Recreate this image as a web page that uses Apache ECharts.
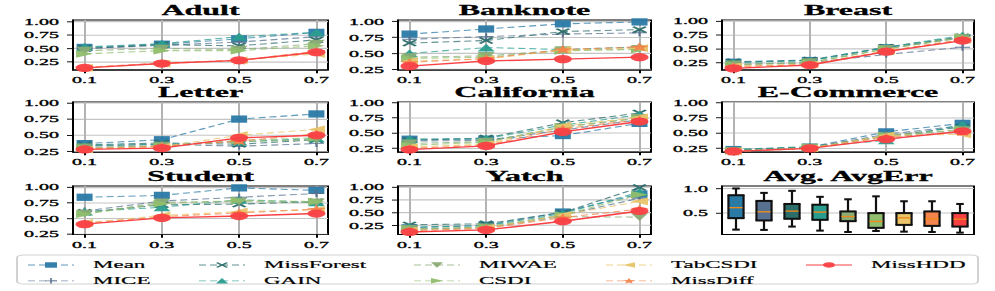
<!DOCTYPE html>
<html><head><meta charset="utf-8">
<script src="https://cdn.jsdelivr.net/npm/echarts@6/dist/echarts.min.js"></script>
<style>
html,body{margin:0;padding:0;background:#fff;overflow:hidden;width:995px;height:291px}
#wrap{width:995px;height:291px;overflow:hidden;position:relative}
#c{width:995px;height:640px;transform:scaleY(0.4546875);transform-origin:0 0;position:absolute;left:0;top:0}
</style>
</head><body><div id="wrap"><div id="c"></div></div>
<script>
// ---------------- data ----------------
const missingRates = [0.1, 0.3, 0.5, 0.7];
const methods = ['Mean','MICE','MissForest','GAIN','MIWAE','CSDI','TabCSDI','MissDiff','MissHDD'];
const datasets = ['Adult','Banknote','Breast','Letter','California','E-Commerce','Student','Yatch'];
const yTickValues = [0.25, 0.5, 0.75, 1.0];
const boxTickValues = [0.5, 1.0];

// each row: one method (order as methods)
const adult = [
  [0.52,0.58,0.68,0.80],[0.50,0.56,0.62,0.72],[0.50,0.57,0.55,0.66],[0.53,0.59,0.72,0.80],
  [0.46,0.50,0.48,0.59],[0.40,0.46,0.46,0.55],[0.14,0.22,0.28,0.40],[0.15,0.23,0.28,0.45],[0.14,0.22,0.28,0.43]];
const banknote = [
  [0.80,0.88,0.96,0.99],[0.72,0.76,0.80,0.82],[0.66,0.70,0.84,0.87],[0.50,0.59,0.56,0.60],
  [0.44,0.46,0.55,0.57],[0.42,0.44,0.54,0.56],[0.38,0.41,0.55,0.58],[0.36,0.42,0.56,0.60],[0.30,0.38,0.41,0.44]];
const breast = [
  [0.26,0.29,0.52,0.70],[0.22,0.25,0.40,0.53],[0.27,0.30,0.53,0.72],[0.25,0.29,0.53,0.74],
  [0.22,0.26,0.50,0.70],[0.21,0.25,0.50,0.71],[0.19,0.22,0.46,0.66],[0.18,0.22,0.46,0.67],[0.15,0.21,0.45,0.65]];
const letter = [
  [0.37,0.43,0.75,0.83],[0.33,0.36,0.33,0.37],[0.35,0.38,0.36,0.43],[0.34,0.36,0.40,0.45],
  [0.31,0.34,0.40,0.43],[0.30,0.33,0.42,0.46],[0.28,0.32,0.50,0.59],[0.29,0.33,0.41,0.52],[0.28,0.30,0.46,0.50]];
const california = [
  [0.40,0.40,0.46,0.66],[0.37,0.38,0.55,0.72],[0.38,0.42,0.67,0.83],[0.40,0.41,0.63,0.80],
  [0.33,0.36,0.60,0.75],[0.30,0.35,0.60,0.74],[0.27,0.32,0.62,0.76],[0.25,0.30,0.57,0.72],[0.23,0.29,0.52,0.69]];
const ecommerce = [
  [0.23,0.27,0.52,0.66],[0.22,0.26,0.48,0.62],[0.22,0.27,0.45,0.60],[0.23,0.28,0.38,0.64],
  [0.21,0.26,0.45,0.55],[0.21,0.26,0.46,0.56],[0.20,0.25,0.46,0.48],[0.20,0.25,0.43,0.52],[0.20,0.25,0.40,0.53]];
const student = [
  [0.84,0.87,0.99,0.95],[0.62,0.78,0.84,0.90],[0.60,0.72,0.73,0.77],[0.61,0.68,0.80,0.76],
  [0.58,0.76,0.77,0.76],[0.57,0.74,0.79,0.77],[0.43,0.55,0.61,0.64],[0.42,0.53,0.59,0.65],[0.41,0.51,0.54,0.58]];
const yatch = [
  [0.20,0.25,0.51,0.86],[0.17,0.20,0.45,0.78],[0.26,0.28,0.50,0.99],[0.22,0.24,0.48,0.90],
  [0.18,0.21,0.42,0.41],[0.18,0.22,0.45,0.85],[0.15,0.20,0.45,0.72],[0.14,0.19,0.40,0.57],[0.12,0.16,0.33,0.53]];
const allData = [adult, banknote, breast, letter, california, ecommerce, student, yatch];

// box plot statistics of average error per method
const boxLow  = [0.164,0.158,0.226,0.144,0.116,0.137,0.123,0.116,0.103];
const boxQ1   = [0.397,0.350,0.384,0.363,0.336,0.200,0.260,0.240,0.226];
const boxMed  = [0.610,0.527,0.540,0.520,0.430,0.330,0.404,0.384,0.377];
const boxQ3   = [0.863,0.747,0.685,0.670,0.534,0.500,0.500,0.534,0.500];
const boxHigh = [1.000,0.910,0.952,0.830,0.780,0.840,0.740,0.740,0.685];

// axis limits per panel
const yMin = [0.10,0.24,0.12,0.24,0.19,0.19,0.245,0.07];
const yMax = [1.03,1.02,1.02,1.015,1.01,1.01,1.02,1.02];

// ---------------- styles ----------------
const S = 640/291;
const FONT = "'Liberation Serif','Times New Roman','DejaVu Serif',serif";
const colors = ['#2a7aa6','#587190','#2c6e6c','#2a9d8f','#8aab75','#90be6d','#e9c46a','#f3844b','#f94144'];
const starPath = (function(){
  let p=[];for(let i=0;i<10;i++){const r=i%2?2.1:5;const a=-Math.PI/2+i*Math.PI/5;p.push((5+r*Math.cos(a)).toFixed(2)+','+(5+r*Math.sin(a)).toFixed(2));}
  return 'path://M'+p.join('L')+'Z';})();
const symbols = ['rect',
  'path://M4.3,0H5.7V4.3H10V5.7H5.7V10H4.3V5.7H0V4.3H4.3Z',
  'path://M1.5,0L5,3.5L8.5,0L10,1.5L6.5,5L10,8.5L8.5,10L5,6.5L1.5,10L0,8.5L3.5,5L0,1.5Z',
  'triangle','path://M0,0L10,0L5,10Z','path://M0,0L10,5L0,10Z','path://M10,0L0,5L10,10Z',
  starPath,'circle'];
const symSizes = [16,15,15,17,17,17,17,19,18];

const colLeft=[73,398,722], colW=[255,253,252];
const rowTop=[20,102,186], rowH=[50,50,48.5];

const tickText = {fontFamily:FONT, fontSize:20, color:'#000', textBorderColor:'#000', textBorderWidth:0.7};

const grids=[], xAxes=[], yAxes=[], series=[], graphics=[];
for(let i=0;i<9;i++){
  const r=Math.floor(i/3), c=i%3;
  grids.push({left:colLeft[c], width:colW[c], top:rowTop[r]*S, height:rowH[r]*S,
    show:true, borderColor:'#000', borderWidth:2, backgroundColor:'transparent'});
  const title = i<8 ? datasets[i] : 'Avg. AvgErr';
  graphics.push({type:'text', x:colLeft[c]+colW[c]/2, y:(rowTop[r]-9.5)*S, z:10,
    style:{text:title, align:'center', verticalAlign:'middle', fontFamily:FONT, fontSize:32, fontWeight:'bold', fill:'#000', stroke:'#000', lineWidth:0.6}});
}
for(let i=0;i<8;i++){
  xAxes.push({gridIndex:i, type:'value', min:0.07, max:0.73,
    axisLine:{show:true, lineStyle:{color:'#000', width:2}},
    axisTick:{show:true, customValues:missingRates, length:7, lineStyle:{color:'#000', width:2}},
    axisLabel:Object.assign({customValues:missingRates, formatter:v=>v.toFixed(1), margin:12}, tickText),
    splitLine:{show:true, lineStyle:{color:'#b3b3b3', width:2}}});
  yAxes.push({gridIndex:i, type:'value', min:yMin[i], max:yMax[i],
    axisLine:{show:true, lineStyle:{color:'#000', width:2}},
    axisTick:{show:true, customValues:yTickValues, length:6, lineStyle:{color:'#000', width:2}},
    axisLabel:Object.assign({customValues:yTickValues, formatter:v=>v.toFixed(2), margin:14}, tickText),
    splitLine:{show:true, lineStyle:{color:'#c4c4c4', width:2.5}}});
  for(let m=0;m<9;m++){
    series.push({type:'line', name:methods[m], xAxisIndex:i, yAxisIndex:i,
      data: missingRates.map((x,k)=>[x, allData[i][m][k]]),
      symbol:symbols[m], symbolSize:symSizes[m], z:2+m,
      itemStyle:{color:colors[m], opacity:0.95},
      lineStyle:{color:colors[m], width:m===8?3:2.4, type:m===8?'solid':[7,4], opacity:m===8?1:0.75},
      emphasis:{disabled:true}, animation:false});
  }
}
// box panel
xAxes.push({gridIndex:8, type:'category', data:methods, boundaryGap:true,
  axisLine:{show:true, lineStyle:{color:'#000', width:2}}, axisTick:{show:false}, axisLabel:{show:false}, splitLine:{show:false}});
yAxes.push({gridIndex:8, type:'value', min:0.065, max:1.05,
  axisLine:{show:true, lineStyle:{color:'#000', width:2}},
  axisTick:{show:true, customValues:boxTickValues, length:6, lineStyle:{color:'#000', width:2}},
  axisLabel:Object.assign({customValues:boxTickValues, formatter:v=>v.toFixed(1), margin:14}, tickText),
  splitLine:{show:true, lineStyle:{color:'#c4c4c4', width:2.5}}});
series.push({type:'custom', name:'box', xAxisIndex:8, yAxisIndex:8, z:5, animation:false,
  data: methods.map((m,k)=>[k, boxLow[k], boxQ1[k], boxMed[k], boxQ3[k], boxHigh[k]]),
  encode:{x:0, y:[1,2,3,4,5]},
  renderItem:function(params, api){
    const k=api.value(0);
    const pLo=api.coord([k,api.value(1)]), pQ1=api.coord([k,api.value(2)]), pMd=api.coord([k,api.value(3)]),
          pQ3=api.coord([k,api.value(4)]), pHi=api.coord([k,api.value(5)]);
    const band=api.size([1,0])[0]; const bw=band*0.54, cw=band*0.27; const cx=pLo[0];
    const vS={stroke:'#111', lineWidth:2.2}, hS={stroke:'#111', lineWidth:4.5};
    const L=cx-bw/2, R=cx+bw/2;
    return {type:'group', children:[
      {type:'line', shape:{x1:cx,y1:pLo[1],x2:cx,y2:pQ1[1]}, style:vS},
      {type:'line', shape:{x1:cx,y1:pQ3[1],x2:cx,y2:pHi[1]}, style:vS},
      {type:'line', shape:{x1:cx-cw/2,y1:pLo[1],x2:cx+cw/2,y2:pLo[1]}, style:hS},
      {type:'line', shape:{x1:cx-cw/2,y1:pHi[1],x2:cx+cw/2,y2:pHi[1]}, style:hS},
      {type:'rect', shape:{x:L,y:pQ3[1],width:bw,height:pQ1[1]-pQ3[1]}, style:{fill:colors[k]}},
      {type:'line', shape:{x1:L,y1:pQ3[1],x2:L,y2:pQ1[1]}, style:vS},
      {type:'line', shape:{x1:R,y1:pQ3[1],x2:R,y2:pQ1[1]}, style:vS},
      {type:'line', shape:{x1:L-1,y1:pQ3[1],x2:R+1,y2:pQ3[1]}, style:hS},
      {type:'line', shape:{x1:L-1,y1:pQ1[1],x2:R+1,y2:pQ1[1]}, style:hS},
      {type:'line', shape:{x1:L+1,y1:pMd[1],x2:R-1,y2:pMd[1]}, style:{stroke:'#ee8a1c', lineWidth:3}}
    ]};
  }});

// legend
graphics.push({type:'rect', z:0, shape:{x:17, y:255*S, width:961, height:29*S, r:6},
  style:{fill:'#fff', stroke:'#d2d2d2', lineWidth:2}});
const legCols = [['Mean','MICE'],['MissForest','GAIN'],['MIWAE','CSDI'],['TabCSDI','MissDiff'],['MissHDD']];
const legLeft = [27,198,413,605,805];
const legends = legCols.map((d,j)=>({data:d, orient:'vertical', left:legLeft[j], top:(263.3*S)-8, z:5,
  itemWidth:46, itemHeight:15, itemGap:11.5, padding:0, selectedMode:false,
  textStyle:{fontFamily:FONT, fontSize:23, color:'#000', lineHeight:15, padding:[0,0,0,14], textBorderColor:'#000', textBorderWidth:0.4}}));

const chart = echarts.init(document.getElementById('c'), null, {renderer:'svg', width:995, height:640});
chart.setOption({animation:false, backgroundColor:'#fff', grid:grids, xAxis:xAxes, yAxis:yAxes,
  series:series, legend:legends, graphic:graphics});
</script></body></html>
